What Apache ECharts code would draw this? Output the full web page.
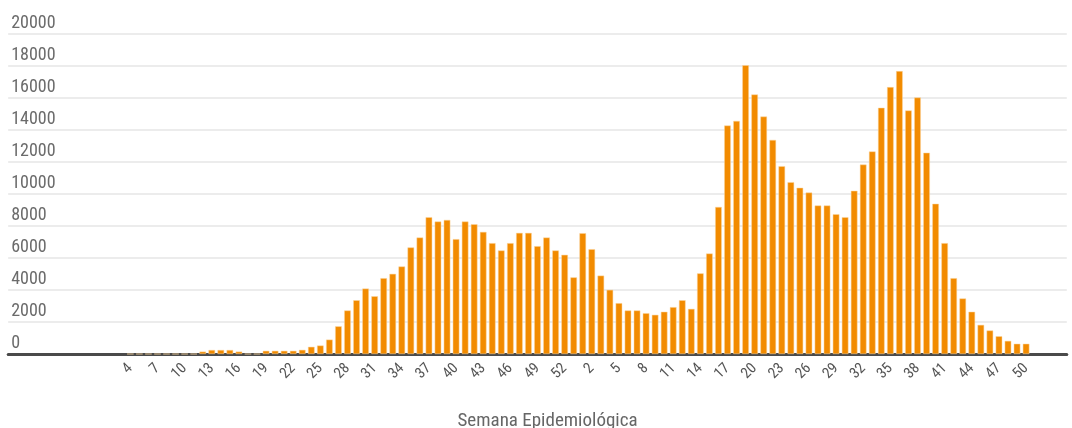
<!DOCTYPE html>
<html>
<head>
<meta charset="utf-8">
<script src="https://cdn.jsdelivr.net/npm/echarts@6/dist/echarts.min.js"></script>
<style>html,body{margin:0;padding:0;background:#fff;}#chart{width:1072px;height:428px;}</style>
</head>
<body>
<div id="chart"></div>
<script>
// Empty slots before/after the data so the frame spans the full width
var leadingSlots = ['','','','','','','','','','','','',''];
var trailingSlots = ['','','',''];
// Epidemiological weeks: year 1 weeks 4..53, then year 2 weeks 1..50
var weekLabels = [
  '4','5','6','7','8','9','10','11','12','13','14','15','16','17','18','19','20','21','22','23',
  '24','25','26','27','28','29','30','31','32','33','34','35','36','37','38','39','40','41','42','43',
  '44','45','46','47','48','49','50','51','52','53',
  '1','2','3','4','5','6','7','8','9','10','11','12','13','14','15','16','17','18','19','20',
  '21','22','23','24','25','26','27','28','29','30','31','32','33','34','35','36','37','38','39','40',
  '41','42','43','44','45','46','47','48','49','50'
];
var valuesYear1 = [
  0,0,0,0,0,0,0,0,150,250,250,250,150,0,0,200,200,200,200,260,
  450,530,900,1730,2720,3360,4090,3610,4740,5010,5470,6660,7280,8550,8280,8380,7180,8280,8110,7630,
  6930,6470,6930,7570,7570,6740,7280,6470,6200,4790
];
var valuesYear2 = [
  7550,6550,4900,4010,3180,2720,2720,2550,2450,2640,2930,3360,2820,5040,6280,9190,14280,14570,18050,16220,
  14840,13380,11740,10740,10390,10090,9280,9280,8740,8550,10200,11840,12660,15390,16680,17680,15220,16030,12580,9390,
  6930,4740,3470,2640,1820,1470,1110,820,640,640
];
var yTicks = {min: 0, max: 20000, interval: 2000};
var axisTitle = 'Semana Epidemiológica';

var categories = leadingSlots.concat(weekLabels, trailingSlots);
var barValues = leadingSlots.map(function () { return null; })
  .concat(valuesYear1, valuesYear2, trailingSlots.map(function () { return null; }));
var firstLabel = leadingSlots.length;
var lastLabel = leadingSlots.length + weekLabels.length;

var FONT = 'Roboto Condensed';
var chart = echarts.init(document.getElementById('chart'));
chart.setOption({
  animation: false,
  grid: {left: 8.2, right: 5.2, top: 34, bottom: 74, containLabel: false, outerBoundsMode: 'none'},
  xAxis: {
    type: 'category',
    data: categories,
    name: axisTitle,
    nameLocation: 'middle',
    nameGap: 58,
    nameMoveOverlap: false,
    nameTextStyle: {fontFamily: FONT, fontSize: 19, color: '#666666', padding: [0, 0, 0, 20]},
    axisLine: {show: true, lineStyle: {color: '#4a4a4a', width: 3}},
    axisTick: {show: false},
    axisLabel: {
      rotate: 45,
      margin: 12,
      hideOverlap: false,
      fontFamily: FONT,
      fontSize: 15,
      color: '#555555',
      interval: function (i) { return i >= firstLabel && i < lastLabel && (i - firstLabel) % 3 === 0; }
    }
  },
  yAxis: {
    type: 'value',
    min: yTicks.min,
    max: yTicks.max,
    interval: yTicks.interval,
    axisLine: {show: false},
    axisTick: {show: false},
    splitLine: {show: true, lineStyle: {color: '#ececec', width: 2}},
    axisLabel: {
      inside: true,
      margin: 3,
      verticalAlign: 'bottom',
      padding: [0, 0, 2, 0],
      fontFamily: FONT,
      fontSize: 18,
      color: '#6b6b6b',
      formatter: function (v) { return String(v); }
    }
  },
  series: [{
    type: 'bar',
    data: barValues,
    barWidth: 6.6,
    itemStyle: {color: '#f28b00', borderColor: '#fbd7a0', borderWidth: 0.5}
  }]
});
</script>
</body>
</html>
